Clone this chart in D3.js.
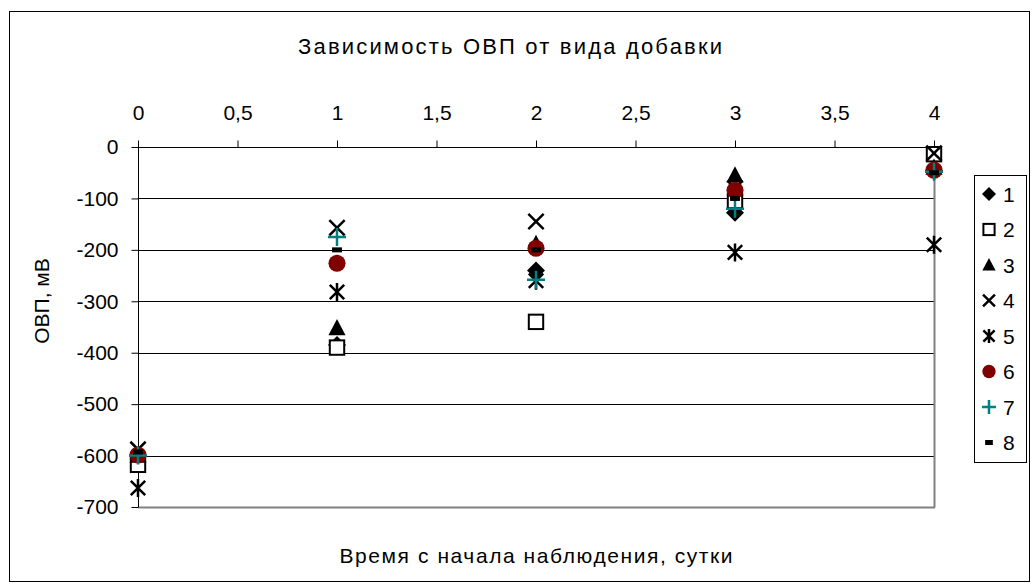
<!DOCTYPE html>
<html><head><meta charset="utf-8">
<script src="https://cdn.jsdelivr.net/npm/d3@7"></script>
<style>body{margin:0;background:#fff}svg{display:block}text{font-family:"Liberation Sans",Arial,sans-serif;fill:#000}</style>
</head><body><svg id="c" width="1033" height="585"></svg>
<script>
const days = [0, 1, 2, 3, 4];
const seriesNames = ["1", "2", "3", "4", "5", "6", "7", "8"];
const s1 = [-600, -385, -240, -128, -45];
const s2 = [-618, -390, -340, -105, -14];
const s3 = [-600, -352, -188, -55, -40];
const s4 = [-588, -157, -145, -80, -12];
const s5 = [-663, -282, -260, -205, -190];
const s6 = [-599, -226, -197, -84, -45];
const s7 = [-600, -175, -258, -120, -48];
const s8 = [-593, -200, -200, -100, -50];
const xTicks = [0, 0.5, 1, 1.5, 2, 2.5, 3, 3.5, 4];
const yTicks = [0, -100, -200, -300, -400, -500, -600, -700];
const title = "Зависимость ОВП от вида добавки";
const xTitle = "Время с начала наблюдения, сутки";
const yTitle = "ОВП, мВ";

const allSeries = [s1, s2, s3, s4, s5, s6, s7, s8];
const markerTypes = ["diamond", "square", "triangle", "x", "star", "circle", "plus", "dash"];

const svg = d3.select("#c");
const fmt = v => String(v).replace(".", ",");

svg.append("rect").attr("x", 9.5).attr("y", 11.5).attr("width", 1020).attr("height", 570)
  .attr("fill", "#fff").attr("stroke", "#000").attr("stroke-width", 1);

const L = 138, R = 934, T = 147, B = 507;
const x = d3.scaleLinear().domain([0, 4]).range([L, R]);
const y = d3.scaleLinear().domain([-700, 0]).range([B, T]);

// gridlines
svg.append("g").selectAll("line").data(yTicks.filter(v => v < 0 && v > -700)).join("line")
  .attr("x1", L).attr("x2", R).attr("y1", d => Math.round(y(d)) + 0.5).attr("y2", d => Math.round(y(d)) + 0.5)
  .attr("stroke", "#000").attr("stroke-width", 1);
// plot border right/bottom gray
svg.append("line").attr("x1", R + 0.5).attr("x2", R + 0.5).attr("y1", T).attr("y2", B + 0.5).attr("stroke", "#808080").attr("stroke-width", 2);
svg.append("line").attr("x1", L).attr("x2", R + 1).attr("y1", B + 0.5).attr("y2", B + 0.5).attr("stroke", "#808080").attr("stroke-width", 2);

// axes
const xAxis = d3.axisTop(x).tickValues(xTicks).tickFormat(fmt).tickSize(7).tickPadding(21);
const gx = svg.append("g").attr("transform", `translate(0,${T + 0.5})`).call(xAxis);
const yAxis = d3.axisLeft(y).tickValues(yTicks).tickFormat(fmt).tickSize(7).tickPadding(13);
const gy = svg.append("g").attr("transform", `translate(${L + 0.5},0)`).call(yAxis);
[gx, gy].forEach(g => {
  g.select(".domain").attr("stroke", "#000").attr("stroke-width", 1);
  g.selectAll(".tick line").attr("stroke", "#000");
  g.selectAll(".tick text").attr("font-size", 21).style("font-family", '"Liberation Sans",Arial,sans-serif').attr("fill", "#000");
});
gx.select(".domain").attr("d", `M${L},0H${R}`);
gy.select(".domain").attr("d", `M0,${T}V${B}`);

// titles
svg.append("text").attr("x", 510).attr("y", 54).attr("text-anchor", "middle").attr("font-size", 22)
  .attr("textLength", 424).attr("lengthAdjust", "spacing").text(title);
svg.append("text").attr("x", 536).attr("y", 563).attr("text-anchor", "middle").attr("font-size", 21)
  .attr("textLength", 393).attr("lengthAdjust", "spacing").text(xTitle);
svg.append("text").attr("transform", "translate(49,301) rotate(-90)").attr("text-anchor", "middle").attr("font-size", 21)
  .text(yTitle);

function drawMarker(g, type, cx, cy, r) {
  const sw = 2;
  switch (type) {
    case "diamond":
      g.append("path").attr("d", `M${cx},${cy - r}L${cx + r},${cy}L${cx},${cy + r}L${cx - r},${cy}Z`).attr("fill", "#000");
      break;
    case "square": {
      const h = r * 0.8;
      g.append("rect").attr("x", cx - h).attr("y", cy - h).attr("width", 2 * h).attr("height", 2 * h)
        .attr("fill", "#fff").attr("stroke", "#000").attr("stroke-width", sw);
      break;
    }
    case "triangle":
      g.append("path").attr("d", `M${cx},${cy - r}L${cx + r * 0.95},${cy + r * 0.8}L${cx - r * 0.95},${cy + r * 0.8}Z`).attr("fill", "#000");
      break;
    case "x": {
      const h = r * 0.85;
      g.append("path").attr("d", `M${cx - h},${cy - h}L${cx + h},${cy + h}M${cx - h},${cy + h}L${cx + h},${cy - h}`)
        .attr("stroke", "#000").attr("stroke-width", sw + 0.5).attr("fill", "none");
      break;
    }
    case "star": {
      const h = r * 0.8;
      g.append("path").attr("d", `M${cx - h},${cy - h}L${cx + h},${cy + h}M${cx - h},${cy + h}L${cx + h},${cy - h}M${cx},${cy - r}L${cx},${cy + r}`)
        .attr("stroke", "#000").attr("stroke-width", sw + 0.5).attr("fill", "none");
      break;
    }
    case "circle":
      g.append("circle").attr("cx", cx).attr("cy", cy).attr("r", r * 0.95).attr("fill", "#800000");
      break;
    case "plus":
      g.append("path").attr("d", `M${cx - r},${cy}L${cx + r},${cy}M${cx},${cy - r}L${cx},${cy + r}`)
        .attr("stroke", "#008080").attr("stroke-width", sw + 0.5).attr("fill", "none");
      break;
    case "dash":
      g.append("rect").attr("x", cx - r * 0.55).attr("y", cy - 2.5).attr("width", r * 1.1).attr("height", 5).attr("fill", "#000");
      break;
  }
}

const pts = svg.append("g");
allSeries.forEach((vals, i) => {
  const g = pts.append("g");
  vals.forEach((v, j) => drawMarker(g, markerTypes[i], x(days[j]), y(v), 9));
});

// legend
const lg = svg.append("g");
lg.append("rect").attr("x", 974.5).attr("y", 175.5).attr("width", 52).attr("height", 287)
  .attr("fill", "#fff").attr("stroke", "#000").attr("stroke-width", 1);
seriesNames.forEach((n, i) => {
  const cy = 194 + i * 35.5;
  drawMarker(lg, markerTypes[i], 989, cy, 7);
  lg.append("text").attr("x", 1003).attr("y", cy + 7.5).attr("font-size", 21).text(n);
});
</script></body></html>
